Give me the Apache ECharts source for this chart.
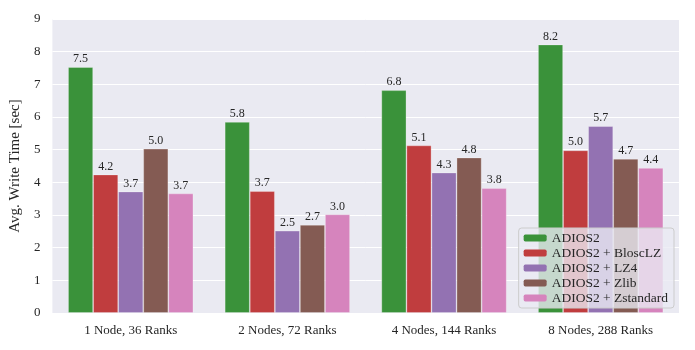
<!DOCTYPE html>
<html lang="en">
<head>
    <meta charset="UTF-8">
    <title>Avg. Write Time</title>
    <script type="text/javascript" src="https://cdn.jsdelivr.net/npm/echarts@6/dist/echarts.min.js"></script>
    <style>
        body { margin: 0; background: #fff; }
    </style>
</head>
<body>
<div id="main" style="width: 695px;height:350px;"></div>
<script>
    var categories = ['1 Node, 36 Ranks', '2 Nodes, 72 Ranks', '4 Nodes, 144 Ranks', '8 Nodes, 288 Ranks'];
    var seriesNames = ['ADIOS2', 'ADIOS2 + BloscLZ', 'ADIOS2 + LZ4', 'ADIOS2 + Zlib', 'ADIOS2 + Zstandard'];
    var adios2 = [7.53, 5.85, 6.82, 8.22];
    var blosclz = [4.24, 3.73, 5.13, 4.98];
    var lz4 = [3.72, 2.52, 4.30, 5.72];
    var zlib = [5.03, 2.70, 4.76, 4.72];
    var zstd = [3.66, 3.02, 3.82, 4.44];
    var yTicks = [0, 1, 2, 3, 4, 5, 6, 7, 8, 9];

    var colors = ['#3a923a', '#c03d3e', '#9372b2', '#845b53', '#d684bd'];
    var allData = [adios2, blosclz, lz4, zlib, zstd];
    var font = 'Liberation Serif';

    var myChart = echarts.init(document.getElementById('main'));

    var series = allData.map(function (d, i) {
        return {
            name: seriesNames[i],
            type: 'bar',
            data: d,
            barGap: '0%',
            barCategoryGap: '20%',
            itemStyle: {
                color: colors[i],
                borderColor: 'rgba(255,255,255,0.35)',
                borderWidth: 0.8
            },
            label: {
                show: true,
                position: 'top',
                distance: 2,
                fontFamily: font,
                fontSize: 12,
                color: '#262626',
                formatter: function (p) { return p.value.toFixed(1); }
            }
        };
    });

    var option = {
        animation: false,
        textStyle: { fontFamily: font },
        grid: {
            left: 52,
            right: 16,
            top: 19,
            bottom: 37,
            show: true,
            backgroundColor: '#eaeaf2',
            borderWidth: 0
        },
        legend: {
            data: seriesNames,
            orient: 'vertical',
            right: 21,
            bottom: 42,
            itemWidth: 23,
            itemHeight: 7,
            itemGap: 1,
            padding: [3, 6, 3, 5],
            backgroundColor: 'rgba(234,234,242,0.8)',
            borderColor: '#cccccc',
            borderWidth: 1,
            borderRadius: 3,
            textStyle: { fontFamily: font, fontSize: 13.5, lineHeight: 14, color: '#262626' },
            itemStyle: { borderWidth: 0 }
        },
        xAxis: {
            type: 'category',
            data: categories,
            axisLine: { show: false },
            axisTick: { show: false },
            axisLabel: { fontFamily: font, fontSize: 13, color: '#262626', margin: 11 }
        },
        yAxis: {
            type: 'value',
            min: yTicks[0],
            max: yTicks[yTicks.length - 1],
            interval: 1,
            name: 'Avg. Write Time [sec]',
            nameLocation: 'middle',
            nameGap: 23,
            nameTextStyle: { fontFamily: font, fontSize: 15, color: '#262626' },
            axisLine: { show: false },
            axisTick: { show: false },
            axisLabel: { fontFamily: font, fontSize: 13, color: '#262626', margin: 12 },
            splitLine: { lineStyle: { color: '#ffffff', width: 1 } }
        },
        series: series
    };

    myChart.setOption(option);
</script>
</body>
</html>
